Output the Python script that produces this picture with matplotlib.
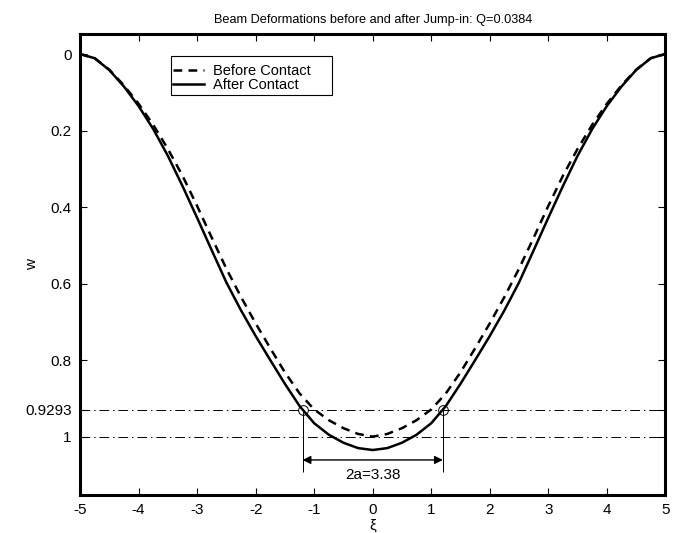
import numpy as np
import matplotlib
matplotlib.use("Agg")
import matplotlib.pyplot as plt
from matplotlib.patches import Rectangle

plt.rcParams['font.family'] = ['Liberation Sans', 'DejaVu Sans']

# beam deflection w(xi) before and after the jump-in (Q = 0.0384)
xi = [-5.0, -4.75, -4.5, -4.25, -4.0, -3.75, -3.5, -3.25, -3.0, -2.75, -2.5,
      -2.25, -2.0, -1.75, -1.5, -1.25, -1.0, -0.75, -0.5, -0.25, 0.0,
      0.25, 0.5, 0.75, 1.0, 1.25, 1.5, 1.75, 2.0, 2.25, 2.5,
      2.75, 3.0, 3.25, 3.5, 3.75, 4.0, 4.25, 4.5, 4.75, 5.0]

w_before = [0.0, 0.011, 0.041, 0.082, 0.130, 0.185, 0.248, 0.318, 0.397, 0.480, 0.561,
            0.635, 0.704, 0.769, 0.832, 0.887, 0.929, 0.957, 0.978, 0.993, 1.000,
            0.993, 0.978, 0.957, 0.929, 0.887, 0.832, 0.769, 0.704, 0.635, 0.561,
            0.480, 0.397, 0.318, 0.248, 0.185, 0.130, 0.082, 0.041, 0.011, 0.0]

w_after = [0.0, 0.011, 0.042, 0.085, 0.136, 0.196, 0.266, 0.345, 0.428, 0.513, 0.597,
           0.670, 0.737, 0.800, 0.862, 0.920, 0.965, 0.995, 1.016, 1.030, 1.035,
           1.030, 1.016, 0.995, 0.965, 0.920, 0.862, 0.800, 0.737, 0.670, 0.597,
           0.513, 0.428, 0.345, 0.266, 0.196, 0.136, 0.085, 0.042, 0.011, 0.0]

w_contact = 0.9293
w_ref = 1.0
contact_label = "2a=3.38"

ytick_vals = [0, 0.2, 0.4, 0.6, 0.8, w_contact, w_ref]
ytick_labels = ["0", "0.2", "0.4", "0.6", "0.8", "0.9293", "1"]
xtick_vals = [-5, -4, -3, -2, -1, 0, 1, 2, 3, 4, 5]

fig = plt.figure(figsize=(6.96, 5.33), dpi=100)
ax = fig.add_axes([0.115, 0.071, 0.841, 0.865])

ax.plot(xi, w_before, color='black', lw=1.8, linestyle=(0, (3.5, 2.5)),
        label='Before Contact')
ax.plot(xi, w_after, color='black', lw=1.8, label='After Contact')

# reference levels
dashdot = (0, (10, 4, 1.5, 4))
ax.axhline(w_contact, color='black', lw=0.7, linestyle=dashdot)
ax.axhline(w_ref, color='black', lw=0.7, linestyle=dashdot)

# contact edges: where the deformed beam crosses w_contact
xa = np.array(xi)
wa = np.array(w_after)
left = xa < 0
x_left = np.interp(w_contact, wa[left], xa[left])
x_right = np.interp(w_contact, wa[~left][::-1], xa[~left][::-1])

ax.plot([x_left, x_right], [w_contact, w_contact], 'o', mfc='none', mec='black',
        ms=7, mew=0.7)
ax.vlines([x_left, x_right], w_contact, 1.092, color='black', lw=0.7)
ax.annotate('', xy=(x_left, 1.061), xytext=(x_right, 1.061),
            arrowprops=dict(arrowstyle='<|-|>', color='black', lw=1.0,
                            mutation_scale=12, shrinkA=0, shrinkB=0))
ax.text(0, 1.10, contact_label, ha='center', va='center', fontsize=11)

ax.set_xlim(-5, 5)
ax.set_ylim(1.153, -0.052)
ax.set_xticks(xtick_vals)
ax.set_xticklabels([str(v) for v in xtick_vals])
ax.set_yticks(ytick_vals)
ax.set_yticklabels(ytick_labels)
ax.tick_params(direction='in', top=True, right=True, length=5, width=0.8,
               labelsize=11, pad=6)
for s in ax.spines.values():
    s.set_linewidth(2.2)

ax.set_xlabel('ξ', fontsize=11)
ax.xaxis.set_label_coords(0.5, -0.05)
ax.set_ylabel('w', fontsize=11)
ax.yaxis.set_label_coords(-0.07, 0.5)
ax.set_title('Beam Deformations before and after Jump-in: Q=0.0384', fontsize=9.2, pad=8)

# legend box drawn separately so the padding can be uneven
ax.add_patch(Rectangle((0.1556, 0.8677), 0.275, 0.0846, transform=ax.transAxes,
                       facecolor='white', edgecolor='black', lw=0.8, zorder=4))
leg = ax.legend(loc='upper left', bbox_to_anchor=(0.159, 0.936), fontsize=10.5,
                frameon=False, handlelength=2.1, handletextpad=0.65,
                labelspacing=0.0, borderpad=0, borderaxespad=0)
leg.set_zorder(5)

fig.savefig('out.png', dpi=100)
